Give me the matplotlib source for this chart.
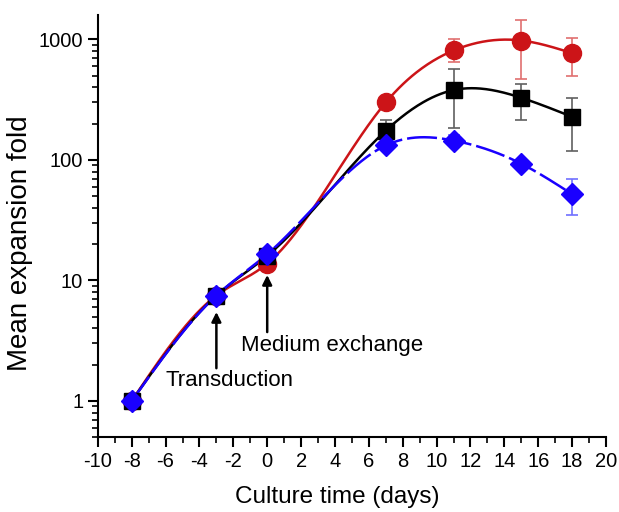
import numpy as np
import matplotlib
matplotlib.use("Agg")
import matplotlib.pyplot as plt
from matplotlib.ticker import FixedLocator, NullFormatter, LogLocator

plt.rcParams['font.family'] = ['Liberation Sans', 'DejaVu Sans']

days = [-8, -3, 0, 7, 11, 15, 18]
red_vals = [1, 7.5, 13.8, 300, 810, 980, 770]
black_vals = [1, 7.5, 16, 175, 380, 328, 228]
blue_vals = [1, 7.5, 16.5, 132, 145, 93, 52]

err_days = [7, 11, 15, 18]
red_err_hi = [320, 1000, 1450, 1035]
red_err_lo = [280, 650, 472, 497]
black_err_hi = [216, 564, 429, 324]
black_err_lo = [140, 185, 216, 118]
blue_err_hi = [140, 160, 98, 70]
blue_err_lo = [124, 130, 88, 35]

x_ticks = list(range(-10, 21, 2))
y_ticks = [1, 10, 100, 1000]
y_tick_labels = ['1', '10', '100', '1000']


def natural_spline(x, y, xs):
    x = np.asarray(x, float)
    y = np.asarray(y, float)
    n = len(x)
    h = np.diff(x)
    A = np.zeros((n, n))
    b = np.zeros(n)
    A[0, 0] = 1
    A[-1, -1] = 1
    for i in range(1, n - 1):
        A[i, i - 1] = h[i - 1]
        A[i, i] = 2 * (h[i - 1] + h[i])
        A[i, i + 1] = h[i]
        b[i] = 3 * ((y[i + 1] - y[i]) / h[i] - (y[i] - y[i - 1]) / h[i - 1])
    c = np.linalg.solve(A, b)
    out = np.empty_like(xs)
    for k, xv in enumerate(xs):
        i = min(max(np.searchsorted(x, xv) - 1, 0), n - 2)
        bi = (y[i + 1] - y[i]) / h[i] - h[i] * (2 * c[i] + c[i + 1]) / 3
        di = (c[i + 1] - c[i]) / (3 * h[i])
        t = xv - x[i]
        out[k] = y[i] + bi * t + c[i] * t ** 2 + di * t ** 3
    return out


fig = plt.figure(figsize=(6.19, 5.12), dpi=100)
ax = fig.add_axes([0.158, 0.146, 0.821, 0.825])

xs = np.linspace(days[0], days[-1], 400)

series = [
    (red_vals, red_err_lo, red_err_hi, '#cc1418', '#e07070', 'o', 13, '-'),
    (black_vals, black_err_lo, black_err_hi, '#000000', '#606060', 's', 11, '-'),
    (blue_vals, blue_err_lo, blue_err_hi, '#1a00ff', '#7070ff', 'D', 11, (0, (12, 2))),
]

for vals, lo, hi, col, ecol, mk, ms, ls in series:
    v_err = np.array([vals[days.index(d)] for d in err_days])
    yerr = [v_err - np.array(lo), np.array(hi) - v_err]
    ax.errorbar(err_days, v_err, yerr=yerr, fmt='none', ecolor=ecol,
                elinewidth=1.2, capsize=4, capthick=1.2, zorder=2)
    ys = 10 ** natural_spline(days, np.log10(vals), xs)
    ax.plot(xs, ys, color=col, lw=1.8, ls=ls, zorder=3)
    ax.plot(days, vals, ls='none', marker=mk, ms=ms, color=col,
            markeredgecolor=col, zorder=4)

ax.set_yscale('log')
ax.set_xlim(-10, 20)
ax.set_ylim(0.5, 1600)
ax.set_xticks(x_ticks)
ax.set_xticklabels([str(t) for t in x_ticks])
ax.xaxis.set_minor_locator(FixedLocator(np.arange(-9, 20, 2)))
ax.yaxis.set_major_locator(FixedLocator(y_ticks))
ax.set_yticklabels(y_tick_labels)
ax.yaxis.set_minor_locator(LogLocator(base=10, subs=np.arange(2, 10)))
ax.yaxis.set_minor_formatter(NullFormatter())

for s in ['top', 'right']:
    ax.spines[s].set_visible(False)
for s in ['left', 'bottom']:
    ax.spines[s].set_linewidth(1.5)

ax.tick_params(which='major', direction='out', length=7, width=1.5, labelsize=14.5)
ax.tick_params(which='minor', direction='out', length=4, width=1.2)

ax.set_xlabel('Culture time (days)', fontsize=17.5, va='center', ha='center')
ax.set_ylabel('Mean expansion fold', fontsize=20, va='center', ha='center')
ax.xaxis.set_label_coords(0.472, -0.142)
ax.yaxis.set_label_coords(-0.154, 0.46)

arrow_kw = dict(arrowstyle='-|>', color='black', lw=1.8,
                shrinkA=0, shrinkB=0, mutation_scale=14)
ax.annotate('', xy=(-3, 5.47), xytext=(-3, 1.87), arrowprops=arrow_kw)
ax.annotate('', xy=(0, 11.1), xytext=(0, 3.73), arrowprops=arrow_kw)
ax.text(-2.2, 1.49, 'Transduction', fontsize=16, ha='center', va='center')
ax.text(3.85, 2.91, 'Medium exchange', fontsize=16, ha='center', va='center')

fig.savefig('out.png', dpi=100)
